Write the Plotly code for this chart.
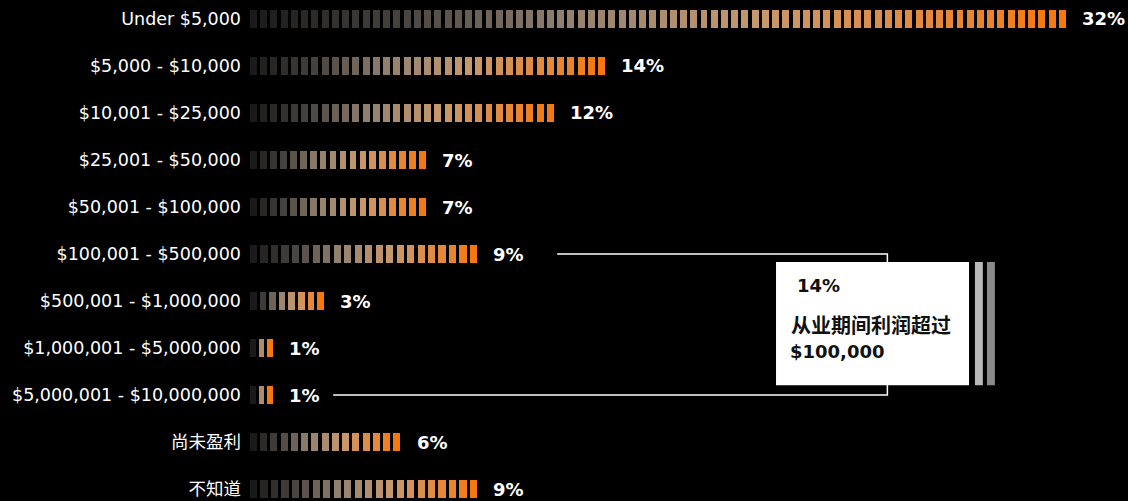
import plotly.graph_objects as go

# Survey: total profit earned since starting out (share of respondents)
categories = [
    "Under $5,000", "$5,000 - $10,000", "$10,001 - $25,000", "$25,001 - $50,000",
    "$50,001 - $100,000", "$100,001 - $500,000", "$500,001 - $1,000,000",
    "$1,000,001 - $5,000,000", "$5,000,001 - $10,000,000", "尚未盈利", "不知道",
]
shares = [32, 14, 12, 7, 7, 9, 3, 1, 1, 6, 9]

callout_value = "14%"
callout_lines = ["从业期间利润超过", "$100,000"]
callout_rows = (5, 8)  # bracket joins these two rows

# colour ramp along each striped bar: near-black -> warm grey -> orange
RAMP = [
    (0.00, (26, 26, 26)),
    (0.18, (70, 66, 62)),
    (0.38, (145, 128, 110)),
    (0.62, (198, 152, 110)),
    (0.86, (230, 136, 56)),
    (1.00, (246, 120, 14)),
]


def ramp(t):
    for (t0, c0), (t1, c1) in zip(RAMP[:-1], RAMP[1:]):
        if t <= t1:
            f = (t - t0) / (t1 - t0) if t1 > t0 else 0
            r, g, b = (round(a + (bb - a) * f) for a, bb in zip(c0, c1))
            return f"rgb({r},{g},{b})"
    return "rgb(246,120,14)"


STEP = 0.4       # percentage points covered by one stripe
FILL = 0.68      # fraction of each stripe that is painted

seg_len, seg_base, seg_row, seg_col = [], [], [], []
for i, v in enumerate(shares):
    n = max(3, int(round(v / STEP)))
    w = v / n
    for k in range(n):
        seg_base.append(k * w)
        seg_len.append(w * FILL)
        seg_row.append(i)
        seg_col.append(ramp(k / (n - 1)))

fig = go.Figure()
fig.add_trace(go.Bar(
    x=seg_len, base=seg_base, y=seg_row, orientation="h",
    width=0.37, marker=dict(color=seg_col, line=dict(width=0)),
    hoverinfo="skip", showlegend=False,
))

LABEL_FONT = "DejaVu Sans, Noto Sans CJK SC"

annotations = []
for i, v in enumerate(shares):
    annotations.append(dict(
        x=v, y=i, xref="x", yref="y", text=f"<b>{v}%</b>", showarrow=False,
        xanchor="left", yanchor="middle", xshift=11,
        font=dict(family=LABEL_FONT, size=18, color="white"),
    ))

top_row, bottom_row = callout_rows
brk_x = 24.9
shapes = [
    # bracket linking the two rows
    dict(type="path", xref="x", yref="y",
         path=f"M 12.0 {top_row} L {brk_x} {top_row} L {brk_x} {bottom_row} L 3.25 {bottom_row}",
         line=dict(color="white", width=1.5)),
    # callout card
    dict(type="rect", xref="x", yref="y", x0=20.55, x1=28.09, y0=5.17, y1=7.79,
         fillcolor="white", line=dict(width=0), layer="above"),
    dict(type="rect", xref="x", yref="y", x0=28.32, x1=28.63, y0=5.17, y1=7.79,
         fillcolor="#b8b8b8", line=dict(width=0), layer="above"),
    dict(type="rect", xref="x", yref="y", x0=28.79, x1=29.10, y0=5.17, y1=7.79,
         fillcolor="#8a8a8a", line=dict(width=0), layer="above"),
]

annotations += [
    dict(x=21.3, y=5.66, xref="x", yref="y", text=f"<b>{callout_value}</b>",
         showarrow=False, xanchor="left", yanchor="middle",
         font=dict(family=LABEL_FONT, size=18, color="#111")),
    dict(x=21.05, y=6.51, xref="x", yref="y", text=callout_lines[0],
         showarrow=False, xanchor="left", yanchor="middle",
         font=dict(family="Noto Sans CJK SC", size=20, color="#111", weight=600)),
    dict(x=21.05, y=7.07, xref="x", yref="y", text=callout_lines[1],
         showarrow=False, xanchor="left", yanchor="middle", borderpad=0,
         font=dict(family="DejaVu Sans", size=18, color="#111", weight=600)),
]

fig.update_layout(
    width=1128, height=501,
    margin=dict(l=250, r=0, t=0, b=0),
    paper_bgcolor="black", plot_bgcolor="black",
    xaxis=dict(range=[0, 34.3], visible=False),
    yaxis=dict(
        range=[10.255, -0.404], tickvals=list(range(len(categories))),
        ticktext=categories, showgrid=False, zeroline=False, showline=False,
        ticks="", ticklabelstandoff=8,
        tickfont=dict(family=LABEL_FONT, size=17.5, color="white"),
    ),
    shapes=shapes,
    annotations=annotations,
    bargap=0,
)

fig.write_html("out.html")
